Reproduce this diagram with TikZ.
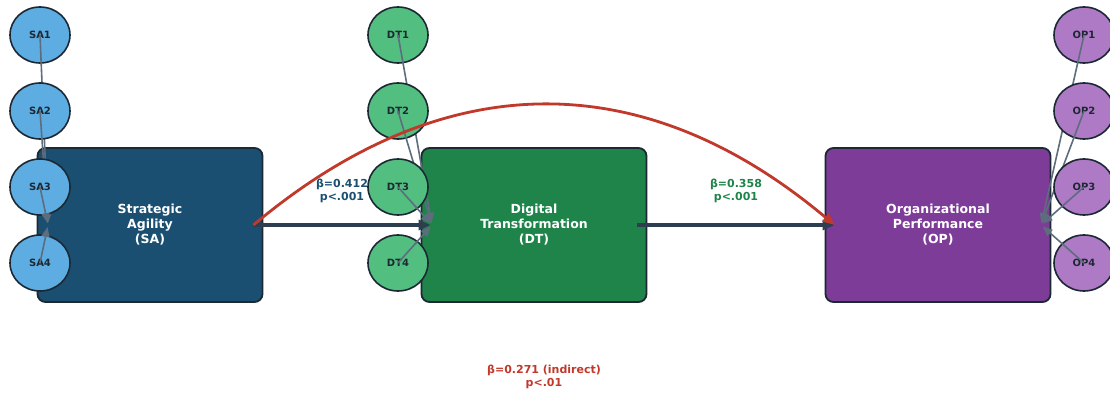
\documentclass[tikz,border=0pt]{standalone}
\usepackage{fontspec}
\setmainfont{DejaVu Sans}
\usetikzlibrary{arrows.meta,shapes.geometric}

\definecolor{saDark}{HTML}{1B4F72}
\definecolor{dtDark}{HTML}{1E8449}
\definecolor{opDark}{HTML}{7D3C98}
\definecolor{saLight}{HTML}{5DADE2}
\definecolor{dtLight}{HTML}{52BE80}
\definecolor{opLight}{HTML}{AF7AC5}
\definecolor{edgeDark}{HTML}{1C2833}
\definecolor{loadGray}{HTML}{5D6D7E}
\definecolor{arrowDark}{HTML}{2C3E50}
\definecolor{indirectRed}{HTML}{C0392B}

\begin{document}
\begin{tikzpicture}[
    x=1pt,y=1pt,
    >={Triangle[length=12pt,width=10pt]},
    construct/.style={
        draw=edgeDark,
        line width=1.8pt,
        rounded corners=8pt,
        minimum width=225pt,
        minimum height=154pt,
        text=white,
        align=center,
        font=\fontsize{12.5}{15}\selectfont\bfseries
    },
    item/.style={
        ellipse,
        draw=edgeDark,
        line width=1.6pt,
        minimum width=60pt,
        minimum height=56pt,
        inner sep=0pt,
        text=edgeDark,
        font=\fontsize{10}{12}\selectfont\bfseries
    },
    loading/.style={
        -{Triangle[length=10pt,width=8pt]},
        draw=loadGray,
        line width=1.6pt,
        shorten >=2pt
    },
    effect/.style={->,draw=arrowDark,line width=3.4pt},
    coef/.style={align=center,font=\fontsize{11}{13}\selectfont\bfseries}
    ]

  \useasboundingbox[fill=white] (0,0) rectangle (1110,394);

  % latent constructs
  \node[construct,fill=saDark] (sa) at (150,169) {Strategic\\Agility\\(SA)};
  \node[construct,fill=dtDark] (dt) at (534,169) {Digital\\Transformation\\(DT)};
  \node[construct,fill=opDark] (op) at (938,169) {Organizational\\Performance\\(OP)};

  \coordinate (saIn) at (48,169);
  \coordinate (dtIn) at (432,169);
  \coordinate (opIn) at (1041,169);

  % indicators SA
  \node[item,fill=saLight] (sa1) at (40,359) {SA1};
  \draw[loading] (sa1.center) -- (saIn);
  \node[item,fill=saLight] (sa2) at (40,283) {SA2};
  \draw[loading] (sa2.center) -- (saIn);
  \node[item,fill=saLight] (sa3) at (40,207) {SA3};
  \draw[loading] (sa3.center) -- (saIn);
  \node[item,fill=saLight] (sa4) at (40,131) {SA4};
  \draw[loading] (sa4.center) -- (saIn);

  % indicators DT
  \node[item,fill=dtLight] (dt1) at (398,359) {DT1};
  \draw[loading] (dt1.center) -- (dtIn);
  \node[item,fill=dtLight] (dt2) at (398,283) {DT2};
  \draw[loading] (dt2.center) -- (dtIn);
  \node[item,fill=dtLight] (dt3) at (398,207) {DT3};
  \draw[loading] (dt3.center) -- (dtIn);
  \node[item,fill=dtLight] (dt4) at (398,131) {DT4};
  \draw[loading] (dt4.center) -- (dtIn);

  % indicators OP
  \node[item,fill=opLight] (op1) at (1084,359) {OP1};
  \draw[loading] (op1.center) -- (opIn);
  \node[item,fill=opLight] (op2) at (1084,283) {OP2};
  \draw[loading] (op2.center) -- (opIn);
  \node[item,fill=opLight] (op3) at (1084,207) {OP3};
  \draw[loading] (op3.center) -- (opIn);
  \node[item,fill=opLight] (op4) at (1084,131) {OP4};
  \draw[loading] (op4.center) -- (opIn);

  % structural paths
  \draw[effect] ([xshift=-10pt]sa.east) -- ([xshift=10pt]dt.west);
  \draw[effect] ([xshift=-10pt]dt.east) -- ([xshift=10pt]op.west);
  \draw[->,draw=indirectRed,line width=2.8pt]
    ([xshift=-10pt]sa.east) to[bend left=40,looseness=1.1] ([xshift=10pt]op.west);

  \node[coef,text=saDark] (b1) at (342,203) {β=0.412\\p<.001};
  \node[coef,text=dtDark] (b2) at (736,203) {β=0.358\\p<.001};
  \node[coef,text=indirectRed] (b3) at (544,17) {β=0.271 (indirect)\\p<.01};

\end{tikzpicture}
\end{document}
